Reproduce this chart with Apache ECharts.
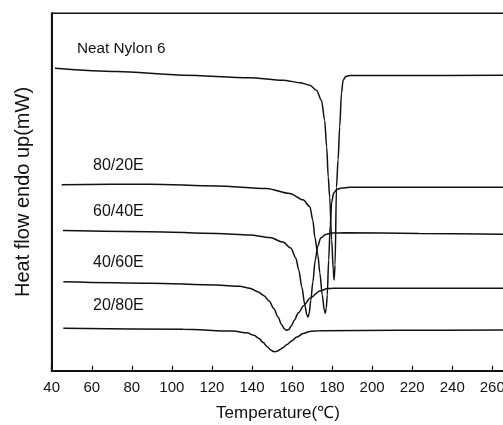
<!DOCTYPE html>
<html>
<head>
<meta charset="utf-8">
<script src="https://cdn.jsdelivr.net/npm/echarts@6/dist/echarts.min.js"></script>
<style>
html,body{margin:0;padding:0;background:#fff;}
#chart{width:503px;height:425px;}
</style>
</head>
<body>
<div id="chart"></div>
<script>
// Temperature (°C) and heat flow (arbitrary units, endo up)
var neatT = [41.6, 72.4, 105.7, 138.9, 155.5, 163.9, 168.9, 172.2, 174.7, 176.3, 177.3, 178.1, 178.8, 179.8, 180.6, 181.0, 181.5, 182.2, 183.0, 183.8, 184.7, 185.5, 186.8, 188.8, 213.8, 265.6];
var neatV = [84.6, 83.7, 82.7, 82.0, 81.3, 80.6, 79.9, 78.5, 75.7, 70.1, 62.6, 54.2, 48.6, 36.6, 28.2, 25.4, 29.6, 51.4, 59.0, 68.2, 77.7, 81.3, 82.3, 82.6, 82.6, 82.7];

var e80T = [45.0, 89.0, 122.3, 147.3, 158.9, 165.5, 168.9, 170.4, 171.4, 172.9, 173.9, 175.1, 176.1, 176.6, 177.1, 177.6, 178.3, 179.1, 179.8, 180.8, 182.3, 184.8, 188.8, 223.7, 265.6];
var e80V = [52.0, 52.2, 51.7, 51.0, 49.6, 47.8, 45.9, 42.1, 37.4, 32.4, 27.3, 21.2, 17.0, 16.1, 17.5, 21.2, 31.0, 40.8, 47.2, 49.7, 50.7, 51.1, 51.3, 51.3, 51.3];

var e60T = [45.6, 89.0, 122.5, 138.9, 148.9, 155.4, 159.4, 161.9, 163.4, 164.9, 166.4, 167.4, 168.0, 168.6, 169.4, 170.4, 171.6, 172.9, 174.3, 176.8, 179.8, 186.3, 223.7, 265.6];
var e60V = [39.2, 38.9, 38.4, 38.0, 37.3, 36.0, 34.3, 31.5, 28.1, 23.4, 18.4, 15.6, 15.0, 16.2, 19.8, 24.8, 31.0, 34.9, 37.1, 38.1, 38.5, 38.6, 38.4, 38.2];

var e40T = [45.8, 89.0, 122.3, 133.9, 138.9, 142.9, 146.0, 148.6, 151.0, 153.0, 154.8, 156.2, 157.2, 158.3, 159.6, 161.2, 163.2, 165.8, 169.0, 173.9, 177.8, 183.8, 223.7, 265.6];
var e40V = [24.9, 24.5, 24.0, 23.6, 23.1, 22.1, 21.0, 19.5, 17.3, 15.0, 12.9, 11.7, 11.3, 11.5, 12.5, 14.2, 16.2, 18.2, 20.3, 22.3, 23.0, 23.1, 23.1, 23.1];

var e20T = [45.8, 105.7, 130.6, 137.5, 141.0, 143.5, 145.6, 147.6, 149.4, 150.6, 151.6, 152.7, 154.0, 155.6, 157.5, 159.8, 162.4, 165.5, 168.9, 173.9, 213.8, 265.6];
var e20V = [11.9, 11.6, 11.1, 10.6, 9.9, 9.0, 7.9, 6.7, 5.8, 5.4, 5.3, 5.5, 5.9, 6.5, 7.3, 8.3, 9.4, 10.4, 11.0, 11.2, 11.3, 11.4];

var seriesNames = ['Neat Nylon 6', '80/20E', '60/40E', '40/60E', '20/80E'];
var xTicks = [40, 60, 80, 100, 120, 140, 160, 180, 200, 220, 240, 260];
var xTitle = 'Temperature(\u2103)';
var yTitle = 'Heat flow endo up(mW)';

function pairs(t, v) { return t.map(function (x, i) { return [x, v[i]]; }); }
var allT = [neatT, e80T, e60T, e40T, e20T];
var allV = [neatV, e80V, e60V, e40V, e20V];

var FONT = '"Liberation Sans", Arial, Helvetica, sans-serif';
var chart = echarts.init(document.getElementById('chart'), null, {renderer: 'canvas'});

var labelPos = [[77, 50, 15.3], [93, 167, 16], [93, 213, 16], [93, 264, 16], [93, 307, 16]];

chart.setOption({
  animation: false,
  backgroundColor: '#fff',
  grid: {
    left: 51.7, top: 13.3, width: 452.6, height: 357.4,
    containLabel: false, outerBoundsMode: 'none',
    show: true, borderColor: '#111', borderWidth: 1.6, backgroundColor: 'transparent'
  },
  xAxis: {
    type: 'value', min: 40, max: 266, interval: 20,
    name: xTitle, nameLocation: 'middle', nameGap: 34,
    nameTextStyle: {fontFamily: FONT, fontSize: 17, color: '#111'},
    axisLine: {show: true, onZero: false, lineStyle: {color: '#111', width: 2}},
    axisTick: {show: true, inside: true, length: 5, lineStyle: {color: '#111', width: 1.2}},
    axisLabel: {
      fontFamily: FONT, fontSize: 15, color: '#111', margin: 10, hideOverlap: false,
      formatter: function (v) { return xTicks.indexOf(v) >= 0 ? String(v) : ''; }
    },
    splitLine: {show: false}
  },
  yAxis: {
    type: 'value', min: 0, max: 100,
    name: yTitle, nameLocation: 'middle', nameGap: 18,
    nameTextStyle: {fontFamily: FONT, fontSize: 20, color: '#111'},
    axisLine: {show: true, lineStyle: {color: '#111', width: 2}},
    axisTick: {show: false},
    axisLabel: {show: false},
    splitLine: {show: false}
  },
  series: seriesNames.map(function (n, i) {
    return {
      name: n, type: 'line', showSymbol: false, symbol: 'none',
      smooth: 0.3, smoothMonotone: 'x',
      lineStyle: {color: '#111', width: 1.5},
      data: pairs(allT[i], allV[i])
    };
  }),
  graphic: seriesNames.map(function (n, i) {
    return {
      type: 'text', left: labelPos[i][0], top: labelPos[i][1] - labelPos[i][2] * 0.6,
      style: {text: n, fontFamily: FONT, fontSize: labelPos[i][2], fill: '#111'}
    };
  })
});
</script>
</body>
</html>
